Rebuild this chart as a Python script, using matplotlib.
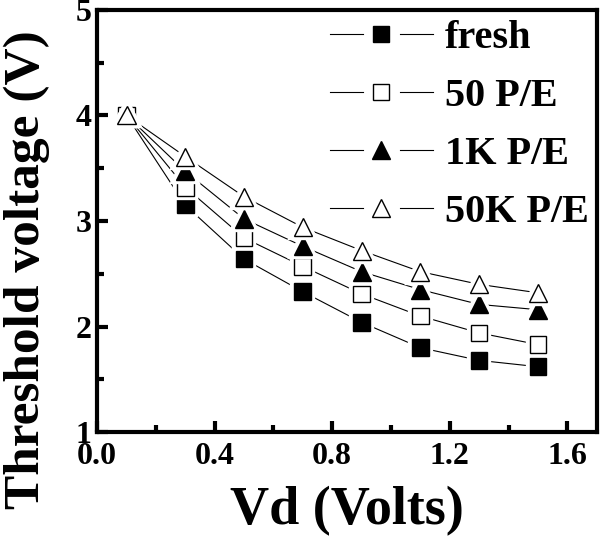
import matplotlib
matplotlib.use("Agg")
import matplotlib.pyplot as plt
import matplotlib.patheffects as pe
from matplotlib.legend_handler import HandlerBase
from matplotlib.lines import Line2D
from matplotlib.ticker import MultipleLocator

plt.rcParams["font.family"] = ["Liberation Serif", "DejaVu Serif"]
plt.rcParams["font.weight"] = "bold"

vd = [0.1, 0.3, 0.5, 0.7, 0.9, 1.1, 1.3, 1.5]
fresh = [4.0, 3.15, 2.64, 2.33, 2.04, 1.80, 1.68, 1.62]
pe_50 = [4.0, 3.32, 2.84, 2.57, 2.31, 2.10, 1.94, 1.83]
pe_1k = [4.0, 3.47, 3.02, 2.76, 2.52, 2.35, 2.21, 2.16]
pe_50k = [4.0, 3.61, 3.23, 2.94, 2.72, 2.52, 2.40, 2.32]

labels = ["fresh", "50 P/E", "1K P/E", "50K P/E"]
series = [fresh, pe_50, pe_1k, pe_50k]
markers = ["s", "s", "^", "^"]
sizes = [12, 12, 13, 13]
faces = ["black", "white", "black", "white"]


class GapHandler(HandlerBase):
    # legend entry drawn as  — marker —  with a gap around the symbol
    def create_artists(self, legend, orig_handle, xdescent, ydescent,
                       width, height, fontsize, trans):
        mk = orig_handle
        y = height / 2 - ydescent
        x0 = -xdescent
        x1 = x0 + width
        xc = (x0 + x1) / 2
        gap = 0.18 * width
        left = Line2D([x0, xc - gap], [y, y], color="black", lw=0.8)
        right = Line2D([xc + gap, x1], [y, y], color="black", lw=0.8)
        m = Line2D([xc], [y], ls="none", marker=mk.get_marker(),
                   markersize=mk.get_markersize(),
                   markerfacecolor=mk.get_markerfacecolor(),
                   markeredgecolor="black", markeredgewidth=1.0)
        for a in (left, right, m):
            a.set_transform(trans)
        return [left, right, m]


fig = plt.figure(figsize=(6.07, 5.45), dpi=100)
ax = fig.add_axes([0.16, 0.207, 0.823, 0.775])

# thin connecting lines first, then markers with a white halo so the
# lines stop just short of each symbol
halo = [pe.withStroke(linewidth=6, foreground="white")]
for y in series:
    ax.plot(vd, y, color="black", lw=0.8)
handles = []
for y, m, ms, fc in zip(series, markers, sizes, faces):
    mk, = ax.plot(vd, y, ls="none", marker=m, markersize=ms,
                  markerfacecolor=fc, markeredgecolor="black",
                  markeredgewidth=1.0, path_effects=halo)
    handles.append(mk)

ax.set_xlim(0, 1.7)
ax.set_ylim(1, 5)
ax.xaxis.set_major_locator(MultipleLocator(0.4))
ax.xaxis.set_minor_locator(MultipleLocator(0.2))
ax.yaxis.set_major_locator(MultipleLocator(1))
ax.yaxis.set_minor_locator(MultipleLocator(0.5))
ax.xaxis.set_major_formatter(plt.FormatStrFormatter("%.1f"))
ax.tick_params(which="both", direction="in", width=3, labelsize=23)
ax.tick_params(which="major", length=8)
ax.tick_params(which="minor", length=5)
ax.tick_params(axis="x", pad=7)
ax.tick_params(axis="y", pad=4)
for s in ax.spines.values():
    s.set_linewidth(3)

ax.set_xlabel("Vd (Volts)", fontsize=39, fontweight="bold", labelpad=11)
ax.set_ylabel("Threshold voltage (V)", fontsize=37, fontweight="bold")
ax.yaxis.set_label_coords(-0.094, 0.384)

ax.legend(handles, labels, loc="upper right", frameon=False, fontsize=29,
          handler_map={Line2D: GapHandler()},
          handlelength=2.55, handletextpad=0.3,
          labelspacing=0.52, borderaxespad=0.0, borderpad=0.25,
          bbox_to_anchor=(1.004, 1.0))

fig.savefig("out.png", dpi=100)
